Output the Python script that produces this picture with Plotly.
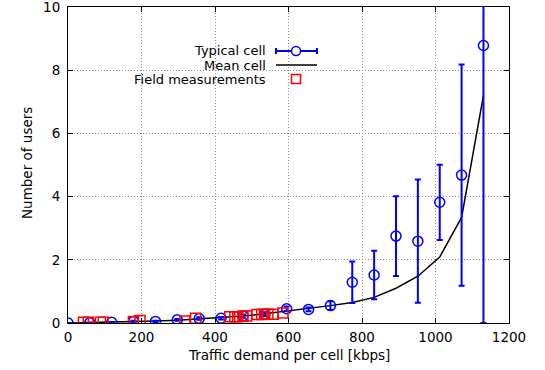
import plotly.graph_objects as go

# Typical cell (circles with error bars)
typ_x = [0, 59.5, 119, 178.5, 238, 297.5, 357, 416.5, 476, 535.5, 595, 654.5,
         714, 773.5, 833, 892.5, 952, 1011.5, 1071, 1130.5]
typ_y = [0.0, 0.01, 0.02, 0.05, 0.05, 0.10, 0.14, 0.15, 0.22, 0.28, 0.45, 0.43,
         0.55, 1.29, 1.52, 2.75, 2.59, 3.82, 4.68, 8.78]
typ_err = [0.0, 0.0, 0.01, 0.02, 0.02, 0.03, 0.04, 0.04, 0.05, 0.06, 0.07, 0.06,
           0.14, 0.66, 0.77, 1.26, 1.95, 1.19, 3.50, 8.78]

# Mean cell (line)
mean_x = typ_x
mean_y = [0.0, 0.01, 0.02, 0.04, 0.06, 0.09, 0.13, 0.17, 0.22, 0.29, 0.37, 0.45,
          0.55, 0.65, 0.81, 1.10, 1.48, 2.09, 3.34, 7.2]

# Field measurements (squares)
field_x = [42, 55, 88, 96, 178, 196, 318, 347, 440, 454, 462, 476, 486,
           514, 527, 535, 544, 558, 585]
field_y = [0.02, 0.02, 0.02, 0.02, 0.05, 0.08, 0.06, 0.15, 0.20, 0.20, 0.20, 0.22, 0.22,
           0.27, 0.27, 0.28, 0.28, 0.28, 0.32]

x_ticks = [0, 200, 400, 600, 800, 1000, 1200]
y_ticks = [0, 2, 4, 6, 8, 10]

BLUE = "#0000ff"
RED = "#ff0000"
FONT = "DejaVu Sans"
FS = 13.5

fig = go.Figure()
fig.add_trace(go.Scatter(
    x=mean_x, y=mean_y, mode="lines", line=dict(color="black", width=1.5),
    name="Mean cell", showlegend=False))
fig.add_trace(go.Scatter(
    x=typ_x, y=typ_y, mode="markers",
    marker=dict(symbol="circle-open", size=10, color=BLUE, line=dict(width=1.5, color=BLUE)),
    error_y=dict(type="data", array=typ_err, visible=True, color=BLUE, thickness=2, width=3),
    name="Typical cell", showlegend=False))
fig.add_trace(go.Scatter(
    x=field_x, y=field_y, mode="markers",
    marker=dict(symbol="square-open", size=10, color=RED, line=dict(width=1.5, color=RED)),
    name="Field measurements", showlegend=False))

axis_common = dict(
    showline=True, linecolor="black", linewidth=1, mirror="ticks",
    ticks="inside", ticklen=5, tickcolor="black", tickwidth=1,
    showgrid=True, gridcolor="#8c8c8c", griddash="1px,2px", gridwidth=1,
    zeroline=False, automargin=False, ticklabeloverflow="allow",
    tickfont=dict(family=FONT, size=FS, color="black"),
)

fig.update_xaxes(range=[0, 1200], tickvals=x_ticks, ticktext=[str(v) for v in x_ticks],
                 ticklabelstandoff=2, **axis_common)
fig.update_yaxes(range=[0, 10], tickvals=y_ticks, ticktext=[str(v) for v in y_ticks],
                 ticklabelstandoff=4, **axis_common)

L, R, T, B = 68, 509, 7, 323
def px(v): return (v - L) / (R - L)
def py(v): return (B - v) / (B - T)

# axis titles
fig.add_annotation(text="Traffic demand per cell [kbps]", xref="paper", yref="paper",
                   x=px(288.5), y=py(355), xanchor="center", yanchor="middle", showarrow=False,
                   font=dict(family=FONT, size=FS, color="black"))
fig.add_annotation(text="Number of users", xref="paper", yref="paper", textangle=-90,
                   x=px(27), y=py(163), xanchor="center", yanchor="middle", showarrow=False,
                   font=dict(family=FONT, size=FS, color="black"))

# Custom gnuplot-style legend
legend_rows = [("Typical cell", 51), ("Mean cell", 65), ("Field measurements", 79)]
for text, yy in legend_rows:
    fig.add_annotation(text=text, xref="paper", yref="paper", x=px(267), y=py(yy),
                       xanchor="right", yanchor="middle", showarrow=False,
                       font=dict(family=FONT, size=13, color="black"), borderpad=0)

shapes = []
y1 = py(51)
shapes.append(dict(type="line", xref="paper", yref="paper", x0=px(276), x1=px(317), y0=y1, y1=y1,
                   line=dict(color=BLUE, width=2)))
for xx in (276, 317):
    shapes.append(dict(type="line", xref="paper", yref="paper", x0=px(xx), x1=px(xx),
                       y0=py(48), y1=py(54), line=dict(color=BLUE, width=2)))
shapes.append(dict(type="circle", xref="paper", yref="paper", xsizemode="pixel", ysizemode="pixel",
                   xanchor=px(296), yanchor=y1, x0=-4.5, x1=4.5, y0=-4.5, y1=4.5,
                   line=dict(color=BLUE, width=1.5), fillcolor="white"))
y2 = py(65)
shapes.append(dict(type="line", xref="paper", yref="paper", x0=px(276), x1=px(317), y0=y2, y1=y2,
                   line=dict(color="black", width=1.5)))
y3 = py(79)
shapes.append(dict(type="rect", xref="paper", yref="paper", xsizemode="pixel", ysizemode="pixel",
                   xanchor=px(296), yanchor=y3, x0=-4.5, x1=4.5, y0=-4.5, y1=4.5,
                   line=dict(color=RED, width=1.5), fillcolor="white"))
fig.update_layout(shapes=shapes)

fig.update_layout(
    width=545, height=370,
    margin=dict(l=L, r=545 - R, t=T, b=370 - B, autoexpand=False),
    paper_bgcolor="white", plot_bgcolor="white",
    font=dict(family=FONT, size=FS, color="black"),
    showlegend=False,
)

fig.write_html("out.html", config={"displayModeBar": False},
               post_script="document.body.style.margin='0';document.body.style.padding='0';")
